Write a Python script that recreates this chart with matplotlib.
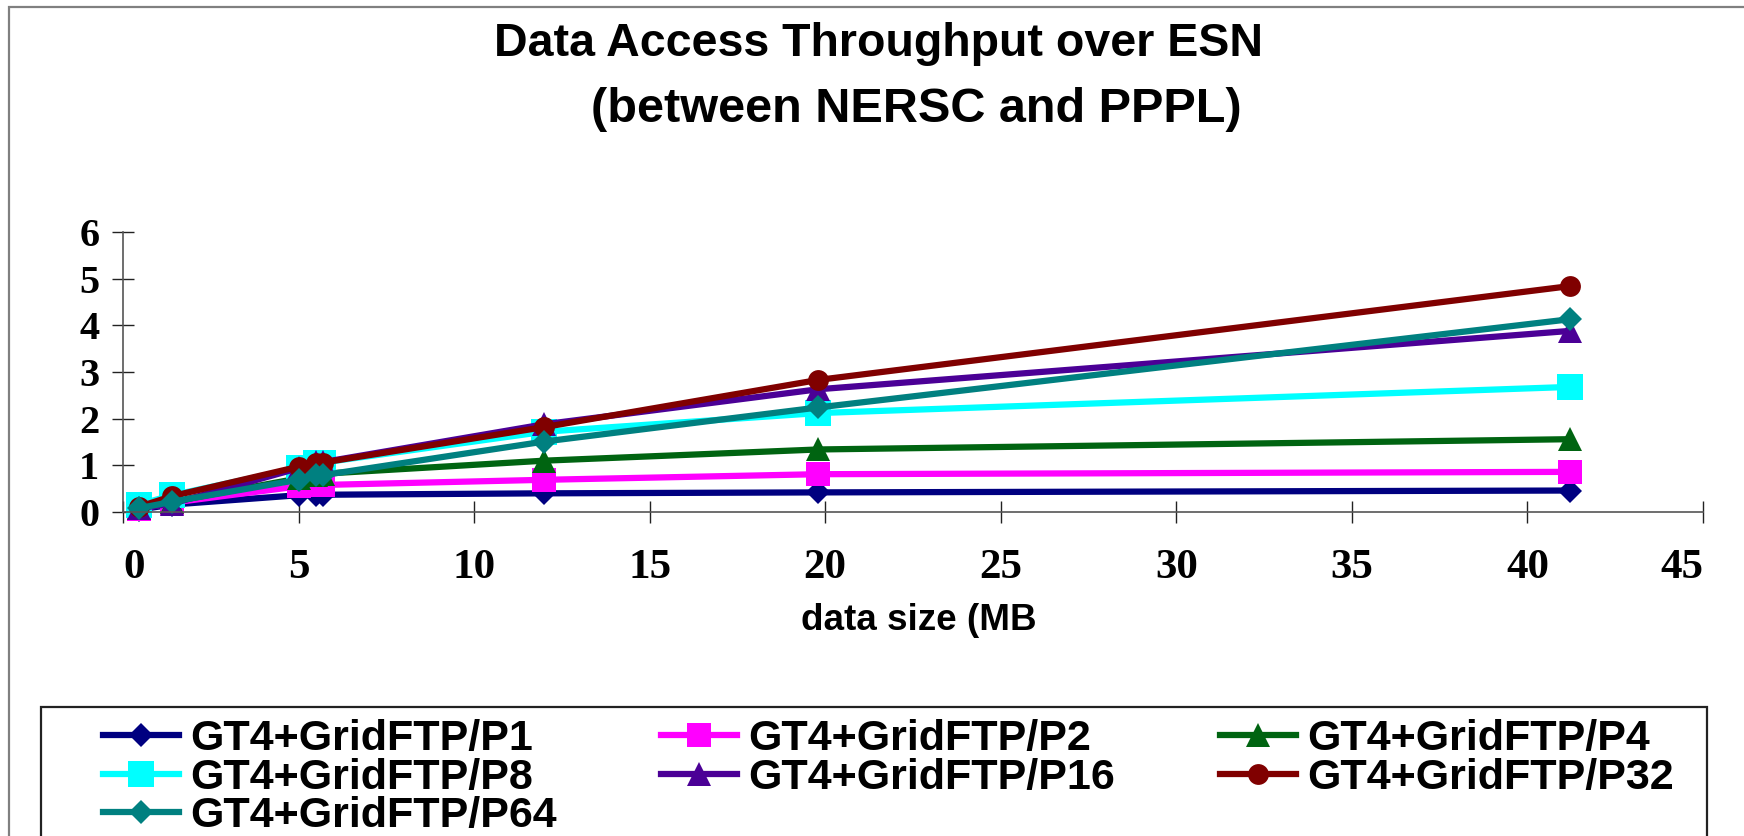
import matplotlib
matplotlib.use("Agg")
import matplotlib.pyplot as plt
from matplotlib.patches import Rectangle

# data
sizes = [0.45, 1.4, 5.0, 5.5, 5.7, 12.0, 19.8, 41.2]
p1 = [0.05, 0.16, 0.36, 0.36, 0.37, 0.40, 0.42, 0.46]
p2 = [0.07, 0.20, 0.55, 0.57, 0.58, 0.69, 0.81, 0.86]
p4 = [0.08, 0.22, 0.72, 0.80, 0.82, 1.10, 1.34, 1.56]
p8 = [0.16, 0.36, 0.94, 1.06, 1.06, 1.72, 2.12, 2.68]
p16 = [0.08, 0.18, 0.94, 1.07, 1.07, 1.88, 2.63, 3.88]
p32 = [0.11, 0.34, 0.97, 1.06, 1.06, 1.82, 2.83, 4.84]
p64 = [0.08, 0.22, 0.69, 0.79, 0.79, 1.51, 2.24, 4.13]

labels = ["GT4+GridFTP/P1", "GT4+GridFTP/P2", "GT4+GridFTP/P4", "GT4+GridFTP/P8",
          "GT4+GridFTP/P16", "GT4+GridFTP/P32", "GT4+GridFTP/P64"]
series = [p1, p2, p4, p8, p16, p32, p64]
colors = ["#000080", "#FF00FF", "#006411", "#00FFFF", "#4B0096", "#800000", "#008080"]
markers = ["D", "s", "^", "s", "^", "o", "D"]
msizes = [12.5, 17, 17, 18.5, 17, 15, 12.5]

W, H = 1744, 836
fig = plt.figure(figsize=(W / 100, H / 100), dpi=100)

# outer frame
fig.patches.append(Rectangle((9 / W, -0.1), 2, 1 - 7 / H + 0.1, transform=fig.transFigure,
                             fill=False, edgecolor="#808080", lw=1.6))

ax = fig.add_axes([123 / W, (H - 512) / H, (1703 - 123) / W, 280 / H])
handles = []
for y, lab, c, m, ms in zip(series, labels, colors, markers, msizes):
    h, = ax.plot(sizes, y, color=c, lw=4.5, marker=m, markersize=ms,
                 markeredgewidth=0, label=lab, clip_on=False)
    handles.append(h)

ax.set_xlim(0, 45)
ax.set_ylim(0, 6)
ax.set_xticks(range(0, 46, 5))
ax.set_yticks(range(0, 7))
for s in ["top", "right"]:
    ax.spines[s].set_visible(False)
for s in ["left", "bottom"]:
    ax.spines[s].set_color("#555555")
    ax.spines[s].set_linewidth(1.2)
ax.tick_params(axis="both", direction="inout", length=16, width=1, color="#222222")
ax.tick_params(axis="x", pad=19)
ax.tick_params(axis="y", pad=9)
xlabels = ax.get_xticklabels()
for t in xlabels:
    t.set_fontfamily("Liberation Serif")
    t.set_fontweight("bold")
    t.set_fontsize(31)
xlabels[0].set_horizontalalignment("left")
xlabels[-1].set_horizontalalignment("right")
for t in ax.get_yticklabels():
    t.set_fontfamily("Liberation Serif")
    t.set_fontweight("bold")
    t.set_fontsize(29)

fig.text(878 / W, 1 - 44 / H, "Data Access Throughput over ESN", ha="center", va="center",
         family="Liberation Sans", weight="bold", fontsize=33.5)
fig.text(916 / W, 1 - 110 / H, "(between NERSC and PPPL)", ha="center", va="center",
         family="Liberation Sans", weight="bold", fontsize=35)
fig.text(919 / W, 1 - 621 / H, "data size (MB", ha="center", va="center",
         family="Liberation Sans", weight="bold", fontsize=26.5)

# legend box
fig.patches.append(Rectangle((41 / W, -0.1), (1707 - 41) / W, 1 - 707 / H + 0.1,
                             transform=fig.transFigure, fill=False, edgecolor="#222222", lw=1.6))
order = [0, 3, 6, 1, 4, 2, 5]
leg = fig.legend([handles[i] for i in order], [labels[i] for i in order],
                 loc="upper left", bbox_to_anchor=(103 / W, 1 - 719 / H), ncol=3,
                 frameon=False, borderpad=0, borderaxespad=0, handlelength=1.77,
                 handletextpad=0.26, columnspacing=2.42, labelspacing=-0.03,
                 prop={"family": "Liberation Sans", "weight": "bold", "size": 31})

fig.savefig("out.png", dpi=100)
